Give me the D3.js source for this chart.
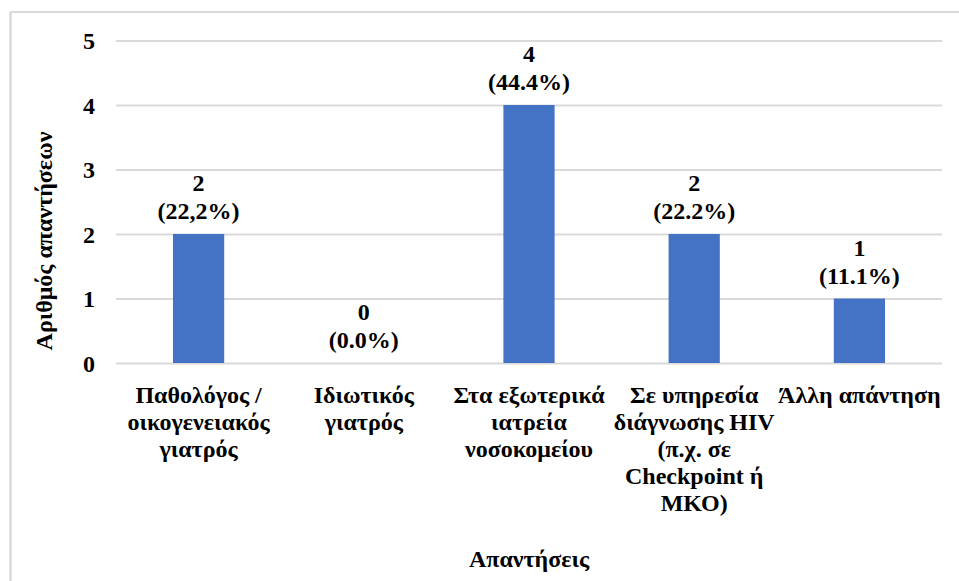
<!DOCTYPE html>
<html>
<head>
<meta charset="utf-8">
<script src="https://cdn.jsdelivr.net/npm/d3@7/dist/d3.min.js"></script>
<style>
  html, body { margin: 0; padding: 0; background: #fff; }
  svg { display: block; }
</style>
</head>
<body>
<svg id="chart" width="959" height="581"></svg>
<script>
// ---- data ----
const categories = [
  "Παθολόγος / οικογενειακός γιατρός",
  "Ιδιωτικός γιατρός",
  "Στα εξωτερικά ιατρεία νοσοκομείου",
  "Σε υπηρεσία διάγνωσης HIV (π.χ. σε Checkpoint ή ΜΚΟ)",
  "Άλλη απάντηση"
];
const categoryLines = [
  ["Παθολόγος /", "οικογενειακός", "γιατρός"],
  ["Ιδιωτικός", "γιατρός"],
  ["Στα εξωτερικά", "ιατρεία", "νοσοκομείου"],
  ["Σε υπηρεσία", "διάγνωσης HIV", "(π.χ. σε", "Checkpoint ή", "ΜΚΟ)"],
  ["Άλλη απάντηση"]
];
const values = [2, 0, 4, 2, 1];
const percentLabels = ["(22,2%)", "(0.0%)", "(44.4%)", "(22.2%)", "(11.1%)"];
const yTicks = [0, 1, 2, 3, 4, 5];
const yTitle = "Αριθμός απαντήσεων";
const xTitle = "Απαντήσεις";

// ---- layout ----
const FONT = '"Liberation Serif", "Tinos", "Times New Roman", serif';
const svg = d3.select("#chart");
const pLeft = 116, pRight = 942, pTop = 40.5, pBottom = 363;
const fs = 24;

const x = d3.scaleBand().domain(categories).range([pLeft, pRight]).paddingInner(0.69).paddingOuter(0.345);
const y = d3.scaleLinear().domain([0, 5]).range([pBottom, pTop]);

function styleText(sel) {
  return sel.attr("font-family", FONT).attr("font-weight", "bold").attr("font-size", fs).attr("fill", "#000");
}

// frame (only top and left edges visible)
svg.append("line").attr("x1", 10.5).attr("x2", 959).attr("y1", 12).attr("y2", 12)
  .attr("stroke", "#d9d9d9").attr("stroke-width", 2);
svg.append("line").attr("x1", 10.5).attr("x2", 10.5).attr("y1", 12).attr("y2", 581)
  .attr("stroke", "#d9d9d9").attr("stroke-width", 2.5);

// gridlines + tick labels
const yAxis = d3.axisLeft(y).tickValues(yTicks).tickSize(-(pRight - pLeft)).tickPadding(21).tickFormat(d3.format("d"));
const gy = svg.append("g").attr("transform", `translate(${pLeft},0)`).call(yAxis);
gy.attr("font-family", null).attr("font-size", null);
gy.select(".domain").remove();
gy.selectAll(".tick line").attr("stroke", "#d9d9d9").attr("stroke-width", 1.8);
styleText(gy.selectAll(".tick text")).attr("dy", "0.34em");

// bars
svg.append("g").selectAll("rect").data(values).join("rect")
  .attr("x", (d, i) => x(categories[i]))
  .attr("width", x.bandwidth())
  .attr("y", d => y(d))
  .attr("height", d => y(0) - y(d))
  .attr("fill", "#4472C4");

// data labels
const lbl = styleText(svg.append("g").selectAll("text").data(values).join("text"))
  .attr("text-anchor", "middle")
  .attr("x", (d, i) => x(categories[i]) + x.bandwidth() / 2)
  .attr("y", d => y(d) - 43);
lbl.append("tspan").text(d => d);
lbl.append("tspan")
  .attr("x", (d, i) => x(categories[i]) + x.bandwidth() / 2)
  .attr("dy", 28)
  .text((d, i) => percentLabels[i]);

// category labels
const cl = styleText(svg.append("g").selectAll("text").data(categoryLines).join("text"))
  .attr("text-anchor", "middle")
  .attr("y", 403);
cl.each(function(lines, i) {
  const cx = x(categories[i]) + x.bandwidth() / 2;
  d3.select(this).selectAll("tspan").data(lines).join("tspan")
    .attr("x", cx)
    .attr("dy", (d, j) => j === 0 ? 0 : 27)
    .text(d => d);
});

// axis titles
styleText(svg.append("text"))
  .attr("text-anchor", "middle")
  .attr("transform", `translate(52,241) rotate(-90)`)
  .text(yTitle);
styleText(svg.append("text"))
  .attr("text-anchor", "middle")
  .attr("x", (pLeft + pRight) / 2)
  .attr("y", 567)
  .text(xTitle);
</script>
</body>
</html>
